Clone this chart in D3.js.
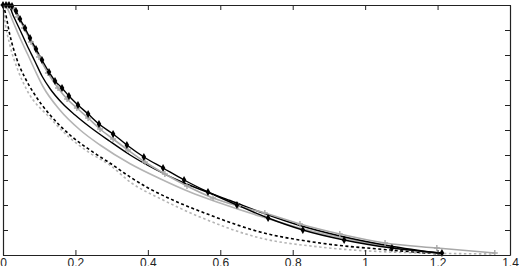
<!DOCTYPE html>
<html>
<head>
<meta charset="utf-8">
<script src="https://cdn.jsdelivr.net/npm/d3@7"></script>
<style>
  body { margin: 0; background: #fff; }
  svg { display: block; }
  .axis text { font-family: "Liberation Sans", Arial, sans-serif; font-size: 12px; fill: #222; }
  .axis path, .axis line { stroke: #222; }
</style>
</head>
<body>
<div id="chart"></div>
<script>
// series values
let blackMarkX = [0, 0.0083, 0.0166, 0.0248, 0.0359, 0.0469, 0.0607, 0.0745, 0.0911, 0.1077, 0.127, 0.1436, 0.163, 0.182, 0.207, 0.235, 0.265, 0.304, 0.342, 0.389, 0.442, 0.500, 0.566, 0.646, 0.732, 0.828, 0.942, 1.074, 1.212];
let blackMarkY = [1, 1, 1, 0.996, 0.976, 0.944, 0.908, 0.868, 0.824, 0.78, 0.732, 0.696, 0.668, 0.636, 0.60, 0.564, 0.524, 0.484, 0.44, 0.392, 0.348, 0.30, 0.252, 0.20, 0.148, 0.10, 0.06, 0.028, 0.008];

let grayMarkX = [0, 0.0138, 0.0276, 0.0414, 0.058, 0.0773, 0.0994, 0.124, 0.152, 0.177, 0.204, 0.235, 0.268, 0.304, 0.345, 0.392, 0.447, 0.508, 0.580, 0.649, 0.723, 0.820, 0.930, 1.055, 1.198, 1.358];
let grayMarkY = [1, 1, 0.988, 0.952, 0.908, 0.852, 0.792, 0.728, 0.668, 0.624, 0.588, 0.548, 0.504, 0.464, 0.42, 0.372, 0.324, 0.276, 0.228, 0.196, 0.168, 0.124, 0.084, 0.048, 0.028, 0.008];

let blackSolidX = [0, 0.014, 0.030, 0.047, 0.066, 0.088, 0.108, 0.130, 0.163, 0.199, 0.240, 0.295, 0.351, 0.420, 0.489, 0.558, 0.627, 0.710, 0.820, 0.931, 1.069, 1.207];
let blackSolidY = [1, 1, 0.952, 0.90, 0.84, 0.775, 0.715, 0.665, 0.608, 0.56, 0.512, 0.455, 0.40, 0.343, 0.295, 0.255, 0.218, 0.172, 0.118, 0.076, 0.036, 0.006];

let graySolidX = [0, 0.011, 0.028, 0.047, 0.069, 0.088, 0.110, 0.157, 0.213, 0.268, 0.351, 0.434, 0.516, 0.599, 0.710, 0.820, 0.931, 1.069, 1.207];
let graySolidY = [1, 0.988, 0.932, 0.868, 0.80, 0.74, 0.675, 0.58, 0.50, 0.44, 0.365, 0.305, 0.252, 0.208, 0.155, 0.108, 0.07, 0.032, 0.004];

let blackDashX = [0, 0.006, 0.019, 0.039, 0.061, 0.083, 0.130, 0.185, 0.240, 0.295, 0.351, 0.406, 0.469, 0.571, 0.710, 0.875, 1.069, 1.207];
let blackDashY = [1, 0.972, 0.88, 0.78, 0.708, 0.652, 0.56, 0.48, 0.42, 0.368, 0.312, 0.264, 0.22, 0.16, 0.092, 0.048, 0.02, 0.004];

let grayDashX = [0, 0.003, 0.019, 0.041, 0.066, 0.130, 0.185, 0.240, 0.295, 0.351, 0.442, 0.544, 0.710, 0.875, 1.069, 1.358];
let grayDashY = [1, 0.96, 0.84, 0.74, 0.66, 0.548, 0.468, 0.408, 0.36, 0.292, 0.22, 0.152, 0.068, 0.032, 0.012, 0.004];

let xTicks = [0, 0.2, 0.4, 0.6, 0.8, 1, 1.2, 1.4];
let yTicks = [0, 0.1, 0.2, 0.3, 0.4, 0.5, 0.6, 0.7, 0.8, 0.9, 1];

// plot box
let W = 519, H = 266;
let box = {left: 3, right: 510, top: 5, bottom: 255};

let svg = d3.select("#chart")
    .append("svg")
    .attr("width", W)
    .attr("height", H);

let x = d3.scaleLinear().domain([0, 1.4]).range([box.left, box.right]);
let y = d3.scaleLinear().domain([0, 1]).range([box.bottom, box.top]);

let zip = (xs, ys) => xs.map((v, i) => [v, ys[i]]);

let line = d3.line()
    .x(d => x(d[0]))
    .y(d => y(d[1]))
    .curve(d3.curveMonotoneX);

let plot = svg.append("g");

// plain lines first, marker lines on top
let series = [
    {pts: zip(grayDashX, grayDashY), color: "#b4b4b4", dash: "2.5,2.5", w: 1.6},
    {pts: zip(blackDashX, blackDashY), color: "#000", dash: "3,2.5", w: 1.6},
    {pts: zip(graySolidX, graySolidY), color: "#b4b4b4", dash: null, w: 1.6},
    {pts: zip(blackSolidX, blackSolidY), color: "#000", dash: null, w: 1.4},
    {pts: zip(grayMarkX, grayMarkY), color: "#a8a8a8", dash: null, w: 1.6},
    {pts: zip(blackMarkX, blackMarkY), color: "#000", dash: null, w: 1.4}
];

series.forEach(s => {
    plot.append("path")
        .datum(s.pts)
        .attr("fill", "none")
        .attr("stroke", s.color)
        .attr("stroke-width", s.w)
        .attr("stroke-dasharray", s.dash)
        .attr("d", line);
});

// gray plus markers
plot.selectAll(".plus")
    .data(zip(grayMarkX, grayMarkY))
    .enter()
    .append("path")
    .attr("class", "plus")
    .attr("d", d => {
        let cx = x(d[0]), cy = y(d[1]), r = 3;
        return "M" + (cx - r) + "," + cy + "H" + (cx + r) + "M" + cx + "," + (cy - r) + "V" + (cy + r);
    })
    .attr("stroke", "#a8a8a8")
    .attr("stroke-width", 1.4)
    .attr("fill", "none");

// black diamond markers
plot.selectAll(".dia")
    .data(zip(blackMarkX, blackMarkY))
    .enter()
    .append("path")
    .attr("class", "dia")
    .attr("transform", d => "translate(" + x(d[0]) + "," + y(d[1]) + ")")
    .attr("d", d3.symbol(d3.symbolDiamond, 18)())
    .attr("fill", "#000");

// axes, ticks pointing inward
svg.append("g")
    .attr("class", "axis")
    .attr("transform", "translate(0," + box.bottom + ")")
    .call(d3.axisBottom(x).tickValues(xTicks).tickFormat(d3.format("")).tickSizeInner(-5).tickSizeOuter(0).tickPadding(3));

svg.append("g")
    .attr("class", "axis")
    .attr("transform", "translate(0," + box.top + ")")
    .call(d3.axisTop(x).tickValues(xTicks).tickFormat("").tickSizeInner(-5).tickSizeOuter(0));

svg.append("g")
    .attr("class", "axis")
    .attr("transform", "translate(" + box.left + ",0)")
    .call(d3.axisLeft(y).tickValues(yTicks).tickFormat("").tickSizeInner(-5).tickSizeOuter(0));

svg.append("g")
    .attr("class", "axis")
    .attr("transform", "translate(" + box.right + ",0)")
    .call(d3.axisRight(y).tickValues(yTicks).tickFormat("").tickSizeInner(-5).tickSizeOuter(0));

svg.selectAll(".axis .domain").attr("stroke-width", 1.2);
</script>
</body>
</html>
